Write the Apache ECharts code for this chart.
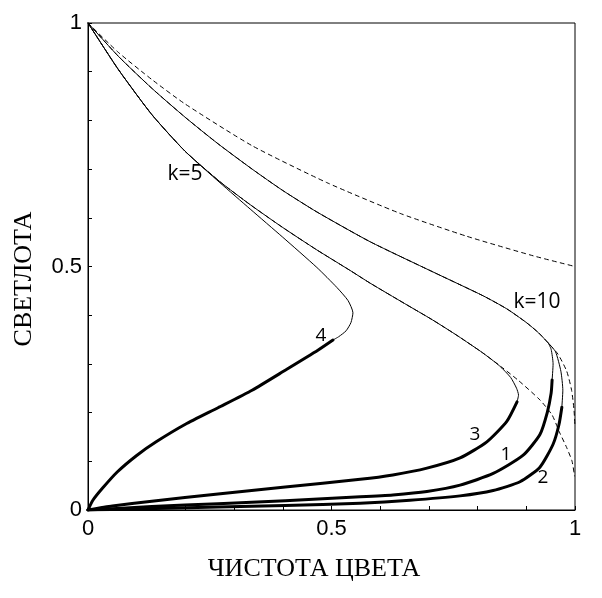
<!DOCTYPE html>
<html><head><meta charset="utf-8">
<script src="https://cdn.jsdelivr.net/npm/echarts@6/dist/echarts.min.js"></script>
<style>html,body{margin:0;padding:0;background:#fff}#c{width:602px;height:598px}</style>
</head><body><div id="c"></div>
<script>
// Thin part of k=10 curve (from white point to turning point)
var curveK10 = [[0,1],[0.062,0.932],[0.131,0.866],[0.2,0.806],[0.267,0.752],[0.337,0.70],[0.40,0.656],[0.47,0.612],[0.579,0.551],[0.708,0.489],[0.811,0.44],[0.86,0.413],[0.9,0.385],[0.925,0.364],[0.945,0.343]];
var curve1Thin = [[0.945,0.343],[0.951,0.33],[0.955,0.30],[0.953,0.267]];
var curve1Thick = [[0.953,0.267],[0.951,0.24],[0.943,0.2],[0.928,0.155],[0.893,0.112],[0.832,0.075],[0.764,0.051],[0.696,0.038],[0.626,0.031],[0.559,0.027],[0.405,0.019],[0.267,0.013],[0.131,0.007],[0,0]];
var curve2Thin = [[0.945,0.343],[0.96,0.325],[0.971,0.285],[0.975,0.246],[0.973,0.211]];
var curve2Thick = [[0.973,0.211],[0.967,0.175],[0.955,0.135],[0.928,0.088],[0.887,0.058],[0.832,0.04],[0.764,0.029],[0.661,0.02],[0.559,0.014],[0.405,0.009],[0.267,0.006],[0,0]];
// k=5 curve
var curveK5 = [[0,1],[0.062,0.905],[0.131,0.812],[0.199,0.737],[0.271,0.672],[0.333,0.618],[0.40,0.56],[0.47,0.498],[0.511,0.457],[0.534,0.43],[0.544,0.405],[0.54,0.385],[0.53,0.368],[0.515,0.356],[0.503,0.349]];
var curve4Thick = [[0.503,0.349],[0.472,0.328],[0.405,0.287],[0.337,0.246],[0.267,0.21],[0.2,0.176],[0.14,0.14],[0.1,0.112],[0.06,0.078],[0.03,0.045],[0.01,0.02],[0,0]];
// middle curve (3)
var curve3Thin = [[0,1],[0.062,0.905],[0.131,0.812],[0.199,0.737],[0.271,0.674],[0.333,0.627],[0.40,0.58],[0.47,0.534],[0.538,0.492],[0.579,0.466],[0.65,0.424],[0.708,0.39],[0.76,0.357],[0.81,0.323],[0.845,0.296],[0.868,0.272],[0.88,0.25],[0.884,0.236],[0.881,0.222]];
var curve3Thick = [[0.881,0.222],[0.86,0.182],[0.819,0.14],[0.764,0.107],[0.696,0.086],[0.626,0.072],[0.559,0.063],[0.405,0.047],[0.267,0.033],[0.131,0.018],[0.05,0.008],[0,0]];
// dashed reference curves
var dashA = [[0,1],[0.062,0.94],[0.131,0.884],[0.199,0.834],[0.337,0.748],[0.491,0.672],[0.641,0.609],[0.778,0.562],[0.914,0.522],[1,0.5]];
var dashB = [[0,1],[0.062,0.932],[0.131,0.866],[0.2,0.806],[0.267,0.752],[0.337,0.70],[0.40,0.656],[0.47,0.612],[0.579,0.551],[0.708,0.489],[0.811,0.44],[0.86,0.413],[0.9,0.385],[0.925,0.364],[0.945,0.343],[0.965,0.32],[0.983,0.285],[0.993,0.246],[0.998,0.205],[1,0.17]];
var dashC = [[0,1],[0.062,0.905],[0.131,0.812],[0.199,0.737],[0.271,0.674],[0.333,0.627],[0.40,0.58],[0.47,0.534],[0.538,0.492],[0.579,0.466],[0.65,0.424],[0.708,0.39],[0.76,0.357],[0.81,0.323],[0.85,0.293],[0.885,0.265],[0.928,0.226],[0.953,0.195],[0.968,0.16],[0.983,0.128],[0.994,0.1],[0.999,0.07]];
var xTickLabels = ['0','0.5','1'];
var yTickLabels = ['0','0.5','1'];

function lbl(v, arr){ var s = (Math.round(v*10)/10).toString(); return arr.indexOf(s)>=0 ? s : ''; }
function ser(d, w, dash){
  return {type:'line', data:d, showSymbol:false, symbol:'none', smooth:0.2, silent:true,
    lineStyle:{color:'#000', width:w, type: dash ? [4,4] : 'solid', cap:'round', join:'round'}, z: dash?1:2};
}
var chart = echarts.init(document.getElementById('c'), null, {renderer:'canvas'});
chart.setOption({
  animation:false,
  grid:{left:88, right:27, top:23, bottom:88, show:true, borderColor:'#000', borderWidth:1, backgroundColor:'transparent'},
  xAxis:{type:'value', min:0, max:1, interval:0.1,
    axisLine:{lineStyle:{color:'#000', width:1}},
    axisTick:{inside:true, length:4, lineStyle:{color:'#000'}},
    splitLine:{show:false},
    axisLabel:{color:'#000', fontFamily:'Liberation Sans, Arial', fontSize:22, margin:8, formatter:function(v){return lbl(v,xTickLabels);}, showMinLabel:true, showMaxLabel:true}
  },
  yAxis:{type:'value', min:0, max:1, interval:0.1,
    axisLine:{lineStyle:{color:'#000', width:1}},
    axisTick:{inside:true, length:4, lineStyle:{color:'#000'}},
    splitLine:{show:false},
    axisLabel:{color:'#000', fontFamily:'Liberation Sans, Arial', fontSize:22, margin:6, formatter:function(v){return lbl(v,yTickLabels);}, showMinLabel:true, showMaxLabel:true}
  },
  series:[
    ser(dashA,1,true), ser(dashB,1,true), ser(dashC,1,true),
    ser(curveK10,1), ser(curve1Thin,1), ser(curve1Thick,3), ser(curve2Thin,1), ser(curve2Thick,3),
    ser(curveK5,1), ser(curve4Thick,3), ser(curve3Thin,1), ser(curve3Thick,3)
  ],
  graphic:[
    {type:'text', x:24, y:279, rotation:Math.PI/2, style:{text:'СВЕТЛОТА', font:'26px "Liberation Serif", "Times New Roman", serif', fill:'#000', textAlign:'center', textVerticalAlign:'middle'}},
    {type:'text', x:314, y:569, style:{text:'ЧИСТОТА ЦВЕТА', font:'26px "Liberation Serif", "Times New Roman", serif', fill:'#000', textAlign:'center', textVerticalAlign:'middle'}},
    {type:'text', x:185, y:174, style:{text:'k=5', font:'21px "Open Sans", sans-serif', fill:'#000', textAlign:'center', textVerticalAlign:'middle'}},
    {type:'text', x:537, y:302, style:{text:'k=10', font:'21px "Open Sans", sans-serif', fill:'#000', textAlign:'center', textVerticalAlign:'middle'}},
    {type:'text', x:321, y:336, style:{text:'4', font:'19px "Open Sans", sans-serif', fill:'#000', textAlign:'center', textVerticalAlign:'middle'}},
    {type:'text', x:475, y:435, style:{text:'3', font:'19px "Open Sans", sans-serif', fill:'#000', textAlign:'center', textVerticalAlign:'middle'}},
    {type:'text', x:506, y:455, style:{text:'1', font:'19px "Open Sans", sans-serif', fill:'#000', textAlign:'center', textVerticalAlign:'middle'}},
    {type:'text', x:543, y:478, style:{text:'2', font:'19px "Open Sans", sans-serif', fill:'#000', textAlign:'center', textVerticalAlign:'middle'}}
  ]
});
</script></body></html>
